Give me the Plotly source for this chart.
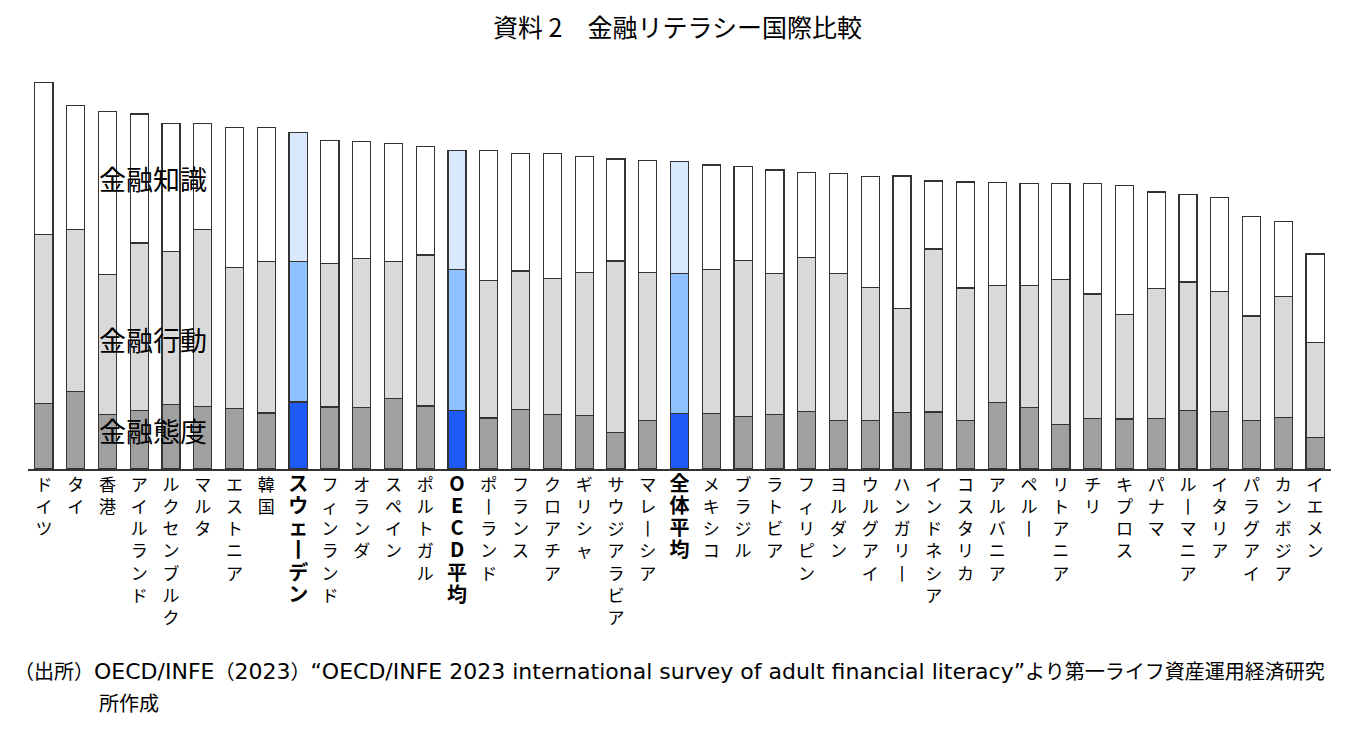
import plotly.graph_objects as go

countries = ["ドイツ", "タイ", "香港", "アイルランド", "ルクセンブルク", "マルタ", "エストニア", "韓国",
             "スウェーデン", "フィンランド", "オランダ", "スペイン", "ポルトガル", "OECD平均", "ポーランド",
             "フランス", "クロアチア", "ギリシャ", "サウジアラビア", "マレーシア", "全体平均", "メキシコ",
             "ブラジル", "ラトビア", "フィリピン", "ヨルダン", "ウルグアイ", "ハンガリー", "インドネシア",
             "コスタリカ", "アルバニア", "ペルー", "リトアニア", "チリ", "キプロス", "パナマ", "ルーマニア",
             "イタリア", "パラグアイ", "カンボジア", "イエメン"]

attitude = [11.9, 14.1, 9.9, 10.6, 11.7, 11.4, 11.1, 10.2, 12.2, 11.3, 11.2, 12.8, 11.5, 10.6, 9.3,
            10.8, 9.9, 9.7, 6.6, 8.9, 10.1, 10.1, 9.6, 10.0, 10.5, 8.8, 8.9, 10.3, 10.4, 8.9, 12.1,
            11.2, 8.1, 9.2, 9.1, 9.2, 10.6, 10.5, 8.9, 9.4, 5.7]
behaviour = [30.9, 29.5, 25.5, 30.6, 27.9, 32.3, 25.6, 27.6, 25.6, 26.1, 27.2, 25.0, 27.5, 25.8, 25.0,
             25.3, 24.8, 26.1, 31.3, 26.9, 25.5, 26.3, 28.4, 25.6, 28.0, 26.8, 24.2, 19.0, 29.7, 24.1,
             21.4, 22.3, 26.4, 22.7, 19.0, 23.7, 23.5, 21.8, 19.0, 22.1, 17.3]
knowledge = [27.7, 22.7, 29.7, 23.5, 23.3, 19.3, 25.6, 24.5, 23.5, 22.5, 21.3, 21.5, 19.8, 21.7, 23.7,
             21.4, 22.8, 21.1, 18.6, 20.5, 20.4, 19.0, 17.2, 18.9, 15.6, 18.3, 20.2, 24.1, 12.4, 19.3,
             18.7, 18.6, 17.5, 20.1, 23.6, 17.6, 16.0, 17.2, 18.1, 13.6, 16.2]

highlight = ["スウェーデン", "OECD平均", "全体平均"]
series_names = ["金融態度", "金融行動", "金融知識"]

gray_colors = ["#a0a0a0", "#d9d9d9", "#ffffff"]
blue_colors = ["#1e5af6", "#8fc0ff", "#dae8fc"]

FONT = "Noto Sans CJK JP"


def vertical(name):
    chars = ["丨" if c == "ー" else c for c in name]
    txt = "<br>".join(chars)
    if name in highlight:
        txt = "<span style='font-size:20px'><b>" + txt + "</b></span>"
    return txt


fig = go.Figure()
for i, (name, vals) in enumerate(zip(series_names, [attitude, behaviour, knowledge])):
    colors = [blue_colors[i] if c in highlight else gray_colors[i] for c in countries]
    fig.add_trace(go.Bar(
        x=countries, y=vals, name=name,
        marker=dict(color=colors, line=dict(color="#333333", width=1.2)),
        showlegend=False,
    ))

fig.update_layout(
    barmode="stack",
    bargap=0.43,
    width=1355, height=733,
    margin=dict(l=28, r=24, t=60, b=264),
    plot_bgcolor="white", paper_bgcolor="white",
    font=dict(family=FONT, color="#000000"),
    title=dict(text="資料 2　金融リテラシー国際比較", x=0.5, xanchor="center",
               y=1 - 28 / 733, yanchor="middle", font=dict(size=25, family=FONT)),
    xaxis=dict(
        tickmode="array", tickvals=countries, ticktext=[vertical(c) for c in countries],
        tickangle=0, ticks="", showgrid=False, zeroline=False,
        showline=True, linecolor="#333333", linewidth=1.5,
        tickfont=dict(size=17, family=FONT, color="#000000"),
        range=[-0.5, len(countries) - 0.5],
    ),
    yaxis=dict(range=[0, 410 / 5.5], visible=False, showgrid=False),
)

label_y = {"金融知識": 178, "金融行動": 339, "金融態度": 430}
for txt, py in label_y.items():
    fig.add_annotation(text=txt, xref="paper", yref="paper",
                       x=(97 - 28) / 1303, y=(469 - py) / 410,
                       xanchor="left", yanchor="middle", showarrow=False,
                       font=dict(size=27, family=FONT, color="#000000"))

FOOT_FONT = "DejaVu Sans, Noto Sans CJK JP"


def latin(s):
    return "<span style='font-size:22px'>" + s + "</span>"


footer = ("（出所）" + latin("OECD/INFE") + "（" + latin("2023") + "）"
          + latin("“OECD/INFE 2023 international survey of adult financial literacy”")
          + "より第一ライフ資産運用経済研究")
fig.add_annotation(
    text=footer,
    xref="paper", yref="paper", x=(12 - 28) / 1303, y=(469 - 672) / 410,
    xanchor="left", yanchor="middle", showarrow=False,
    font=dict(size=20, family=FOOT_FONT, color="#000000"))
fig.add_annotation(
    text="所作成", xref="paper", yref="paper", x=(97 - 28) / 1303, y=(469 - 705) / 410,
    xanchor="left", yanchor="middle", showarrow=False,
    font=dict(size=20, family=FOOT_FONT, color="#000000"))

fig.write_html("out.html")
